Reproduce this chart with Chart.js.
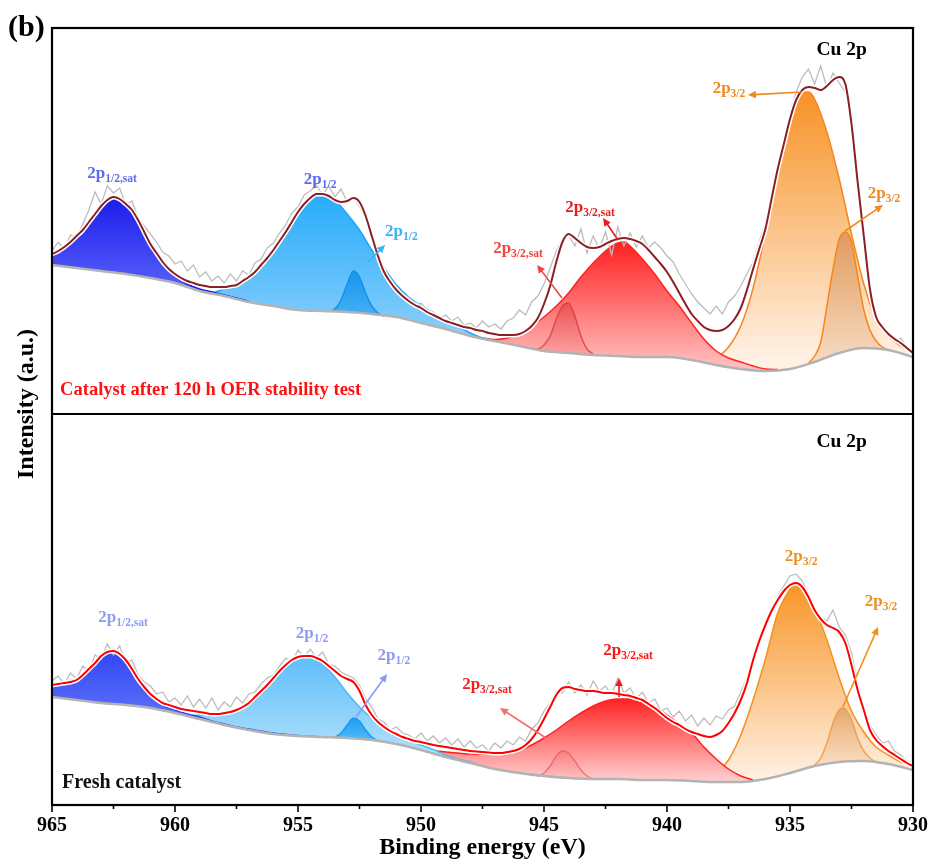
<!DOCTYPE html>
<html><head><meta charset="utf-8">
<script src="https://cdn.jsdelivr.net/npm/chart.js@4.4.1/dist/chart.umd.min.js"></script>
<style>html,body{margin:0;padding:0;background:#fff;}canvas{display:block;}</style>
</head><body>
<canvas id="c" width="933" height="862"></canvas>
<script>
// ---------- DATA (binding energy in eV, intensity in a.u.) ----------
const energyGrid = [965,964.75,964.5,964.25,964,963.75,963.5,963.25,963,962.75,962.5,962.25,962,961.75,961.5,961.25,961,960.75,960.5,960.25,960,959.75,959.5,959.25,959,958.75,958.5,958.25,958,957.75,957.5,957.25,957,956.75,956.5,956.25,956,955.75,955.5,955.25,955,954.75,954.5,954.25,954,953.75,953.5,953.25,953,952.75,952.5,952.25,952,951.75,951.5,951.25,951,950.75,950.5,950.25,950,949.75,949.5,949.25,949,948.75,948.5,948.25,948,947.75,947.5,947.25,947,946.75,946.5,946.25,946,945.75,945.5,945.25,945,944.75,944.5,944.25,944,943.75,943.5,943.25,943,942.75,942.5,942.25,942,941.75,941.5,941.25,941,940.75,940.5,940.25,940,939.75,939.5,939.25,939,938.75,938.5,938.25,938,937.75,937.5,937.25,937,936.75,936.5,936.25,936,935.75,935.5,935.25,935,934.75,934.5,934.25,934,933.75,933.5,933.25,933,932.75,932.5,932.25,932,931.75,931.5,931.25,931,930.75,930.5,930.25,930];
const bgEnergy = [965,964,963,962,961,960,959,958,957,956,955,954,953,952,951,950,949,948,947,946,945,944,943,942,941,940,939,938,937,936,935,934,933,932,931,930];
const xTickValues = [965,960,955,950,945,940,935,930];

// --- Panel 1: catalyst after 120 h OER stability test ---
const topBackground = [149,146,143,140,136,131,123,118,112,108,104,103,102,100,97,91,85,78,73,68,63,61,59,58,57,57,54,49,45,43,45,52,61,66,64,57];
const topRaw = [
163,172,165,179, 176,190,204,222, 210,228,221,226, 209,213,196,188, 180,172,162,158,
150,153,143,149, 137,142,133,138, 131,140,133,143, 139,151,155,166, 171,181,189,201,
207,219,223,229, 219,228,217,225, 212,217,207,196, 174,162,140,131, 127,120,117,109,
111,104,102,96, 99,93,97,89, 91,86,93,87, 90,85,93,96, 104,99,112,118,
130,146,163,176, 179,168,185,161, 178,165,182,159, 187,168,181,167, 178,166,172,166,
158,152,140,130, 120,112,106,100, 108,100,112,118, 128,140,152,172, 192,222,250,270,
300,322,337,345, 330,348,326,341, 331,322,296,240, 176,122,96,86, 82,73,76,67, 62];
const topEnvelope = [
160,163,167,172, 178,184,192,200, 208,214,217,215, 210,204,194,182, 170,161,152,145,
140,136,133,131, 129,128,127,127, 127,128,129,133, 137,142,149,156, 164,173,182,192,
202,210,216,220, 220,218,214,212, 213,216,212,198, 178,158,142,132, 124,118,113,109,
106,102,99,96, 93,91,89,87, 86,84,83,81, 80,79,79,79, 80,83,88,96,
110,128,152,172, 180,176,171,167, 166,167,170,173, 175,176,175,173, 170,164,157,150,
142,132,121,110, 100,93,87,84, 83,84,88,95, 106,124,145,165, 185,215,245,270,
295,314,324,327, 326,324,328,334, 337,330,290,232, 178,125,97,87, 80,75,71,66, 61];
const top12SatE = [965,964.5,964,963.5,963,962.5,962,961.5,961,960.5,960,959.5,959,958.5,958,957.5,957];
const top12SatI = [160,166,177,192,207,217,211,194,171,152,138,130,125,122,119,116,112.5];
const top12E = [959,958.5,958,957.5,957,956.5,956,955.5,955,954.5,954.2,954,953.5,953,952.5,952,951.5,951,950.5,950,949.5,949,948.5,948,947.5,947];
const top12I = [123,121.5,125,128,136,149,164,182,202,216,221,220,214,200,184,164,146,129,117,108,101,94,88,81,76,73];
const top12SmallE = [953.75,953.5,953.25,953,952.75,952.5,952.25,952,951.75,951.5];
const top12SmallI = [102.5,105,114,130,143,137,121,108,101,98];
const top32SatSmallE = [945.5,945.25,945,944.75,944.5,944.25,944,943.75,943.5,943.25,943];
const top32SatSmallI = [65.5,65,69,78,95,108,111,98,78,65,60];
const top32SatE = [947.5,947,946.5,946,945.5,945,944.5,944,943.5,943,942.5,942,941.75,941.5,941,940.5,940,939.5,939,938.5,938,937.5,937,936.5,936,935.5];
const top32SatI = [76,74.5,76,81,88,97,108,121,137,151,163,171,172,168,155,140,123,108,91,75,63,56,52,48,45,44.5];
const top32E = [940.5,940,939.5,939,938.5,938,937.5,937,936.5,936,935.5,935,934.5,934.25,934,933.5,933,932.5,932,931.5,931,930.5,930];
const top32I = [58,58,57.5,57,56,57,67,88,126,182,246,297,321,322,315,282,235,180,130,95,78,68,61];
const top32SmallE = [934.25,934,933.75,933.5,933.25,933,932.75,932.5,932.25,932,931.75,931.5,931.25,931];
const top32SmallI = [50.5,58,72,108,145,175,182,172,138,104,84,73,67,64];

// --- Panel 2: fresh catalyst ---
const botBackground = [106,103,100,98,95,90,84,78,73,69,67,66,65,63,59,53,46,40,34,30,27,25,24,24,23,23,22,21,21,24,30,37,41,42,39,33];
const botRaw = [
122,127,119,130, 124,137,132,148, 144,159,148,157, 140,143,128,121, 117,109,111,101,
105,98,107,96, 104,95,105,93, 101,96,106,100, 109,111,119,125, 128,137,145,141,
153,146,154,145, 151,139,137,131, 128,125,118,104, 96,84,81,73, 76,70,68,64,
70,62,67,60, 65,58,64,56, 62,55,58,52, 60,55,62,58, 66,62,74,80,
92,100,112,110, 121,110,118,108, 122,112,117,108, 125,110,115,104, 111,100,104,92,
95,86,92,82, 88,77,85,78, 87,84,93,97, 111,125,141,161, 177,191,207,217,
227,229,222,210, 196,186,182,193, 176,168,150,120, 96,78,68,60, 62,52,48,42, 38];
const botEnvelope = [
118,119,120,121, 123,128,134,140, 147,151,152,149, 143,134,124,116, 109,104,100,98,
96,94,93,92, 91,90,89,89, 90,91,93,96, 100,106,112,118, 125,132,138,143,
146,147,147,145, 142,137,132,127, 124,121,112,98, 88,81,76,72, 69,66,64,62,
61,59.5,58,57, 56,55,54,53, 52,51.5,51,50.5, 50,50,51,52, 54,58,64,73,
84,96,108,115, 116,114,113,112, 112,111,110,110, 109,108,107,105, 103,99,95,90,
85,81,78,74, 71,69,67,66, 68,72,80,90, 103,120,143,162, 178,192,203,212,
218,220,216,206, 193,184,178,175, 171,160,138,113, 93,73,63,57, 52,48,44,40, 37];
const bot12SatE = [965,964.5,964,963.5,963,962.5,962,961.5,961,960.5,960,959.5,959,958.5,958,957.5,957,956,955,954];
const bot12SatI = [118,120,123,134,147,152,143,124,108,98,93,89,86,82,79,76,74,70,67.5,66];
const bot12E = [959.5,959,958.5,958,957.5,957,956.5,956,955.5,955,954.75,954.5,954,953.5,953,952.5,952,951.5,951,950.5,950,949.5,949,948.5,948,947.5];
const bot12I = [87.5,88,89,90,92,98,110,123,136,145,147,146,139,126,110,96,85,76,69,63,58,53.5,48,44,41,37];
const bot12SmallE = [953.5,953.25,953,952.75,952.5,952.25,952,951.75];
const bot12SmallI = [65.5,70,78,85,82,73,66,62];
const bot32SatSmallE = [945.25,945,944.75,944.5,944.25,944,943.75,943.5,943.25,943];
const bot32SatSmallI = [26.5,30,37,47,52,50,42,33,27,24];
const bot32SatE = [951,950,949.5,949,948.5,948,947.5,947,946.5,946,945.5,945,944.5,944,943.5,943,942.5,942,941.5,941,940.5,940,939.5,939,938.5,938,937.5,937,936.5];
const bot32SatI = [59,55,52.5,51,50,49,49,49,50,53,58,65,73,82,90,97,102,104,104,101,96,88,79,70,56,44,34,27,23];
const bot32E = [940,939.5,939,938.5,938,937.5,937,936.5,936,935.5,935,934.85,934.5,934,933.5,933,932.5,932,931.5,931,930.5,930];
const bot32I = [23.5,23,24,25,30,43,68,103,144,190,214,219,213,195,163,125,92,71,56,48,41,36];
const bot32SmallE = [934,933.75,933.5,933.25,933,932.85,932.75,932.5,932.25,932,931.75,931.5,931.25];
const bot32SmallI = [38,45,60,80,93,95,94,83,65,52,45,41,40];

// ---------- BUILD ----------
const FONT = '"Liberation Serif", "Times New Roman", serif';
function pts(E, I) { return E.map((e, k) => ({x: e, y: I[k]})); }
function vgrad(yId, I, c0, c1) {
  const hi = Math.max(...I), lo = Math.min(...I);
  return (ctx) => {
    const ch = ctx.chart, s = ch.scales[yId];
    if (!ch.chartArea || !s) return c0;
    const g = ch.ctx.createLinearGradient(0, s.getPixelForValue(hi), 0, s.getPixelForValue(lo));
    g.addColorStop(0, c0); g.addColorStop(1, c1); return g;
  };
}
const datasets = [];
function addPanel(yId, bgI, comps, rawI, envI, envColor) {
  const bgIndex = datasets.length;
  datasets.push({data: pts(bgEnergy, bgI), yAxisID: yId, borderColor: '#b3b3b3', borderWidth: 2.5, fill: false, order: 5, cubicInterpolationMode: 'monotone'});
  comps.forEach(c => datasets.push({data: pts(c.E, c.I), yAxisID: yId, borderColor: c.line, borderWidth: c.lw || 1.5,
    backgroundColor: vgrad(yId, c.I, c.c0, c.c1), fill: bgIndex, order: c.order, cubicInterpolationMode: 'monotone'}));
  datasets.push({data: pts(energyGrid, rawI), yAxisID: yId, borderColor: '#bcbcbc', borderWidth: 1.3, tension: 0, fill: false, order: 4});
  datasets.push({data: pts(energyGrid, envI), yAxisID: yId, borderColor: '#ffffff', borderWidth: 5, fill: false, order: 3, cubicInterpolationMode: 'monotone'});
  datasets.push({data: pts(energyGrid, envI), yAxisID: yId, borderColor: envColor, borderWidth: 2, fill: false, order: 2, cubicInterpolationMode: 'monotone'});
}
addPanel('yTop', topBackground, [
  {E: top32E, I: top32I, line: '#f5861e', c0: 'rgb(247,146,38)', c1: 'rgb(255,241,228)', order: 11},
  {E: top12E, I: top12I, line: '#1ea6f5', c0: 'rgb(38,172,250)', c1: 'rgb(140,208,252)', order: 10},
  {E: top32SatE, I: top32SatI, line: '#ff2424', c0: 'rgb(255,32,32)', c1: 'rgb(255,196,196)', order: 10},
  {E: top12SatE, I: top12SatI, line: '#1a1ae6', c0: 'rgb(28,28,236)', c1: 'rgb(95,105,250)', order: 9},
  {E: top12SmallE, I: top12SmallI, line: '#1590e6', c0: 'rgb(22,150,240)', c1: 'rgb(70,175,245)', order: 8},
  {E: top32SatSmallE, I: top32SatSmallI, line: 'rgba(215,55,55,0.75)', c0: 'rgba(200,30,30,0.35)', c1: 'rgba(220,80,80,0.15)', order: 8},
  {E: top32SmallE, I: top32SmallI, line: '#f5861e', c0: 'rgba(215,140,80,0.75)', c1: 'rgba(235,190,150,0.45)', order: 7}
], topRaw, topEnvelope, '#8b1f24');
addPanel('yBot', botBackground, [
  {E: bot32E, I: bot32I, line: '#f5901e', c0: 'rgb(247,150,40)', c1: 'rgb(255,241,228)', order: 11},
  {E: bot12E, I: bot12I, line: '#4ab8f5', c0: 'rgb(95,190,250)', c1: 'rgb(185,228,253)', order: 10},
  {E: bot32SatE, I: bot32SatI, line: '#ff2020', c0: 'rgb(255,35,35)', c1: 'rgb(255,205,205)', order: 10},
  {E: bot12SatE, I: bot12SatI, line: '#2f45ee', c0: 'rgb(50,70,245)', c1: 'rgb(105,125,250)', order: 9},
  {E: bot12SmallE, I: bot12SmallI, line: '#1a9af0', c0: 'rgb(30,160,245)', c1: 'rgb(80,185,248)', order: 8},
  {E: bot32SatSmallE, I: bot32SatSmallI, line: 'rgba(230,90,90,0.7)', c0: 'rgba(235,90,90,0.3)', c1: 'rgba(240,140,140,0.15)', order: 8},
  {E: bot32SmallE, I: bot32SmallI, line: 'rgba(240,150,70,0.85)', c0: 'rgba(220,150,90,0.7)', c1: 'rgba(240,200,160,0.4)', order: 7}
], botRaw, botEnvelope, '#ff0000');

// ---------- ANNOTATIONS ----------
const panelLabels = {
  yTop: [
    {e: 962.56, i: 236, sub: '1/2,sat', color: '#5b6cf0'},
    {e: 954.1, i: 230, sub: '1/2', color: '#5b6cf0'},
    {e: 950.8, i: 178, sub: '1/2', color: '#3cb2f5'},
    {e: 943.13, i: 202, sub: '3/2,sat', color: '#e81e1e'},
    {e: 946.06, i: 161, sub: '3/2,sat', color: '#ee4444'},
    {e: 937.48, i: 321, sub: '3/2', color: '#f08a1e'},
    {e: 931.18, i: 216, sub: '3/2', color: '#f08a1e'}
  ],
  yBot: [
    {e: 962.11, i: 181, sub: '1/2,sat', color: '#8c9cf5'},
    {e: 954.43, i: 165, sub: '1/2', color: '#8c9cf5'},
    {e: 951.1, i: 143, sub: '1/2', color: '#8c9cf5'},
    {e: 941.58, i: 148, sub: '3/2,sat', color: '#ff1414'},
    {e: 947.32, i: 114, sub: '3/2,sat', color: '#f22020'},
    {e: 934.55, i: 242, sub: '3/2', color: '#f0901e'},
    {e: 931.3, i: 197, sub: '3/2', color: '#f0901e'}
  ]
};
const panelArrows = {
  yTop: [
    {e0: 952.15, i0: 152, e1: 951.46, i1: 169, color: '#3cb2f5'},
    {e0: 941.99, i0: 174, e1: 942.6, i1: 196, color: '#e81e1e'},
    {e0: 944.27, i0: 116, e1: 945.28, i1: 149, color: '#ee4444'},
    {e0: 934.51, i0: 322, e1: 936.71, i1: 319, color: '#f08a1e'},
    {e0: 932.76, i0: 183, e1: 931.22, i1: 209, color: '#f08a1e'}
  ],
  yBot: [
    {e0: 952.64, i0: 86, e1: 951.38, i1: 129, color: '#8c9cf5'},
    {e0: 941.95, i0: 106, e1: 941.95, i1: 125, color: '#ff1414'},
    {e0: 944.92, i0: 65, e1: 946.79, i1: 95, color: '#f07070'},
    {e0: 932.85, i0: 96, e1: 931.42, i1: 176, color: '#f0901e'}
  ]
};
const panelTexts = {
  yTop: [
    {e: 932.9, i: 359, text: 'Cu 2p', color: '#000', align: 'center', size: 19.5},
    {e: 964.67, i: 19, text: 'Catalyst after 120 h OER stability test', color: '#ff1010', align: 'left', size: 18.5}
  ],
  yBot: [
    {e: 932.9, i: 356, text: 'Cu 2p', color: '#000', align: 'center', size: 19.5},
    {e: 964.59, i: 15, text: 'Fresh catalyst', color: '#111', align: 'left', size: 20}
  ]
};

function subLabel(ctx, x, y, sub, color) {
  ctx.save(); ctx.fillStyle = color; ctx.textBaseline = 'alphabetic'; ctx.textAlign = 'left';
  const fm = 'bold 17px ' + FONT, fs = 'bold 11.5px ' + FONT;
  ctx.font = fm; const w1 = ctx.measureText('2p').width;
  ctx.font = fs; const w2 = ctx.measureText(sub).width;
  const x0 = x - (w1 + w2) / 2;
  ctx.font = fm; ctx.fillText('2p', x0, y);
  ctx.font = fs; ctx.fillText(sub, x0 + w1, y + 4);
  ctx.restore();
}
function arrow(ctx, x0, y0, x1, y1, color) {
  const a = Math.atan2(y1 - y0, x1 - x0), h = 8, w = 3.8;
  const c = Math.cos(a), s = Math.sin(a);
  ctx.save(); ctx.strokeStyle = color; ctx.fillStyle = color; ctx.lineWidth = 1.6;
  ctx.beginPath(); ctx.moveTo(x0, y0); ctx.lineTo(x1 - h * 0.8 * c, y1 - h * 0.8 * s); ctx.stroke();
  ctx.beginPath(); ctx.moveTo(x1, y1);
  ctx.lineTo(x1 - h * c + w * s, y1 - h * s - w * c);
  ctx.lineTo(x1 - h * c - w * s, y1 - h * s + w * c);
  ctx.closePath(); ctx.fill(); ctx.restore();
}

const decor = {
  id: 'decor',
  afterDatasetsDraw(chart) {
    const ctx = chart.ctx, xs = chart.scales.x;
    ['yTop', 'yBot'].forEach(id => {
      const ys = chart.scales[id];
      panelArrows[id].forEach(a => arrow(ctx, xs.getPixelForValue(a.e0), ys.getPixelForValue(a.i0), xs.getPixelForValue(a.e1), ys.getPixelForValue(a.i1), a.color));
      panelLabels[id].forEach(l => subLabel(ctx, xs.getPixelForValue(l.e), ys.getPixelForValue(l.i), l.sub, l.color));
      panelTexts[id].forEach(t => {
        ctx.save(); ctx.fillStyle = t.color; ctx.font = 'bold ' + t.size + 'px ' + FONT;
        ctx.textAlign = t.align; ctx.textBaseline = 'alphabetic';
        ctx.fillText(t.text, xs.getPixelForValue(t.e), ys.getPixelForValue(t.i)); ctx.restore();
      });
    });
  },
  afterDraw(chart) {
    const ctx = chart.ctx, a = chart.chartArea, xs = chart.scales.x, yt = chart.scales.yTop;
    ctx.save();
    ctx.strokeStyle = '#000'; ctx.lineWidth = 2.2;
    ctx.strokeRect(a.left, a.top, a.right - a.left, a.bottom - a.top);
    ctx.beginPath(); ctx.moveTo(a.left, yt.bottom); ctx.lineTo(a.right, yt.bottom); ctx.stroke();
    ctx.lineWidth = 1.6;
    for (let v = 930; v <= 965; v += 2.5) {
      const px = xs.getPixelForValue(v), major = xTickValues.includes(v);
      ctx.beginPath(); ctx.moveTo(px, a.bottom); ctx.lineTo(px, a.bottom + (major ? 7 : 4)); ctx.stroke();
    }
    ctx.fillStyle = '#000';
    ctx.font = 'bold 30px ' + FONT; ctx.textAlign = 'left'; ctx.textBaseline = 'alphabetic';
    ctx.fillText('(b)', 8, 36);
    ctx.translate(a.left - 25, a.top + 376); ctx.rotate(-Math.PI / 2);
    ctx.font = 'bold 24px ' + FONT; ctx.textAlign = 'center'; ctx.textBaseline = 'middle';
    ctx.fillText('Intensity (a.u.)', 0, 0);
    ctx.restore();
  }
};

new Chart(document.getElementById('c'), {
  type: 'line',
  data: {datasets},
  options: {
    responsive: false, animation: false, devicePixelRatio: 1,
    layout: {padding: {top: 28, left: 52, right: 20, bottom: 0}},
    elements: {point: {radius: 0}},
    plugins: {legend: {display: false}, tooltip: {enabled: false}, filler: {propagate: false}},
    scales: {
      x: {type: 'linear', min: 930, max: 965, reverse: true, position: 'bottom',
        grid: {display: false, drawTicks: false}, border: {display: false},
        ticks: {stepSize: 5, color: '#000', padding: 9, maxRotation: 0, autoSkip: false,
          font: {family: FONT, size: 20, weight: 'bold'}},
        title: {display: true, text: 'Binding energy (eV)', color: '#000', padding: {top: 0, bottom: 0},
          font: {family: FONT, size: 24, weight: 'bold'}},
        afterFit: (s) => { s.height = 57; s.paddingLeft = 0; s.paddingRight = 0; }},
      yBot: {type: 'linear', min: -2, max: 389, display: false, position: 'left', stack: 'panels', stackWeight: 391},
      yTop: {type: 'linear', min: 0, max: 386, display: false, position: 'left', stack: 'panels', stackWeight: 386}
    }
  },
  plugins: [decor]
});
</script>
</body></html>
